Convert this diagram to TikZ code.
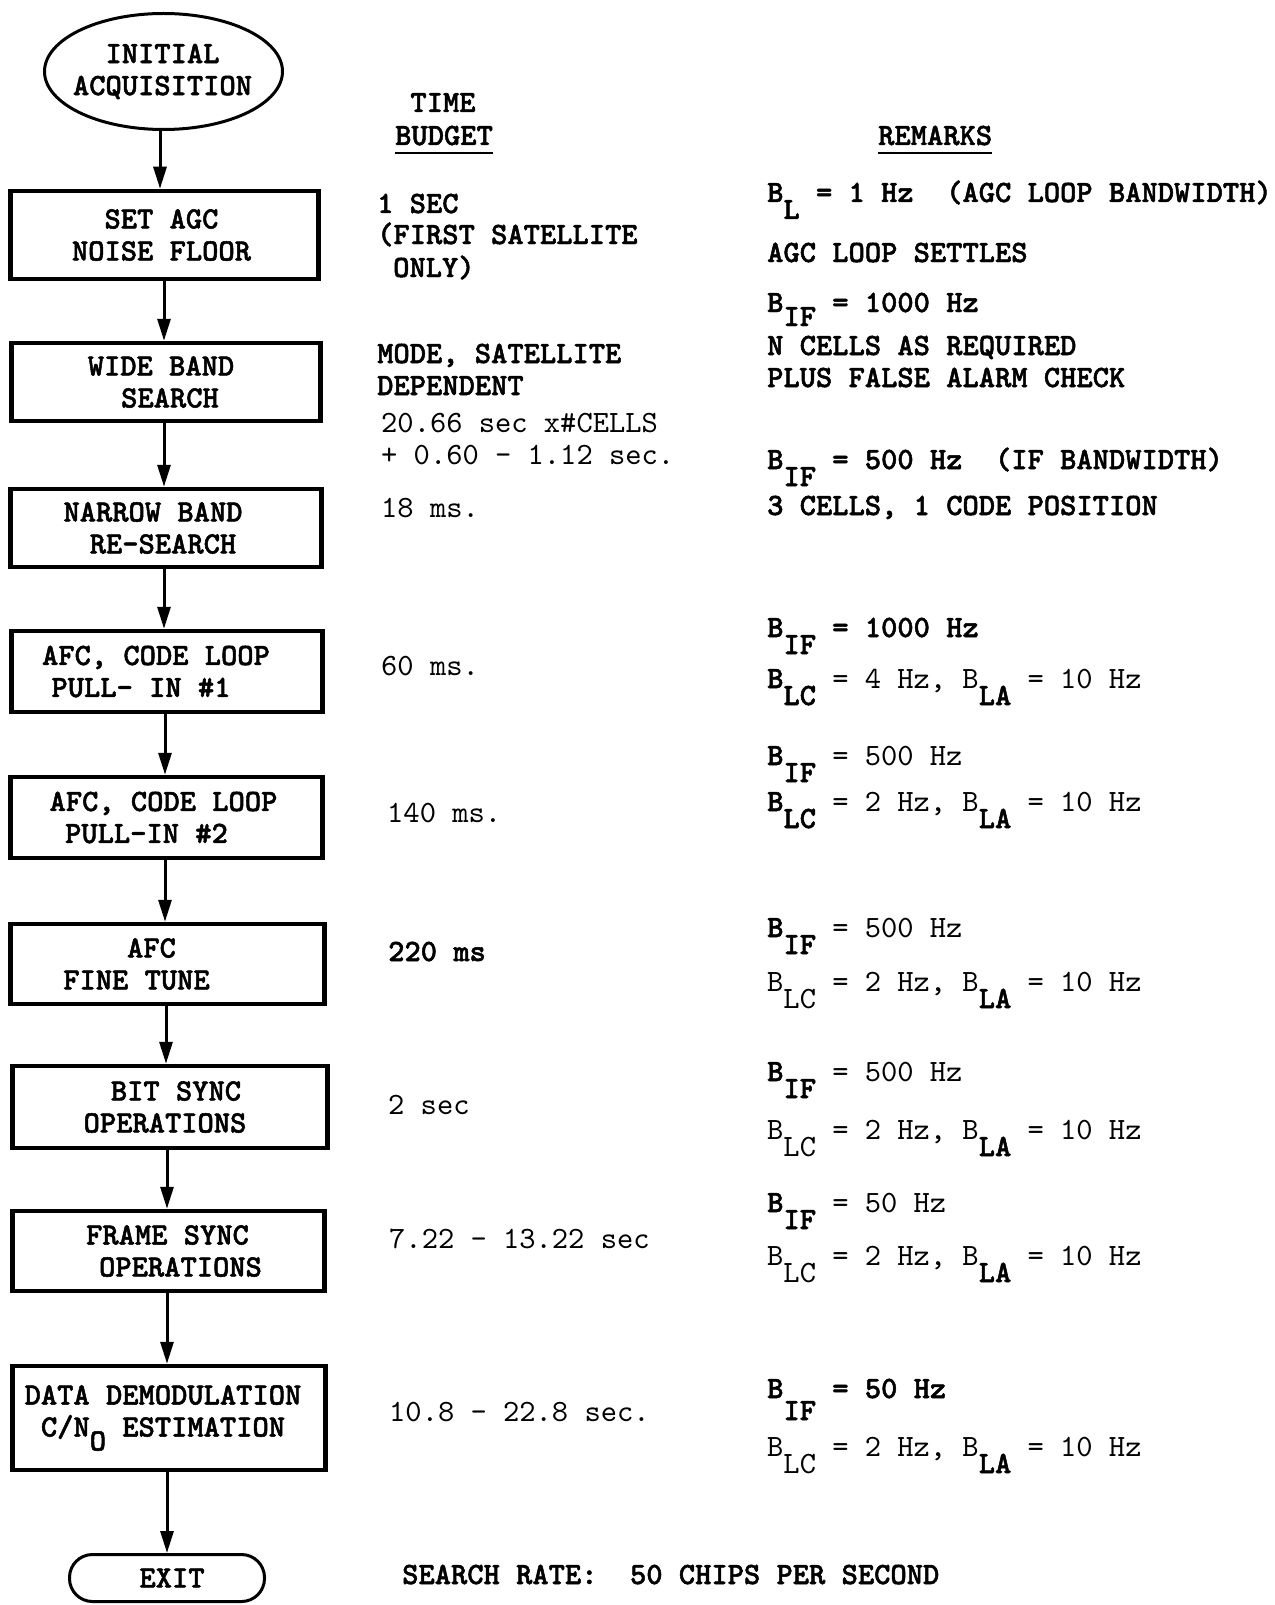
\documentclass[tikz,border=0pt]{standalone}
\usepackage{fontspec}
\setmonofont{lmmono10-regular.otf}[BoldFont=lmmonolt10-bold.otf, BoldFeatures={FakeBold=1.6}]
\usetikzlibrary{arrows.meta,shapes.geometric}
\newcommand{\offl}[2]{\makebox[0pt]{\hspace*{#1pt}\hspace*{#1pt}#2}}
\newcommand{\lw}[1]{\raisebox{-17pt}{#1}}
\begin{document}
\begin{tikzpicture}[x=1pt,y=-1pt,
  every node/.style={inner sep=0pt, font=\ttfamily\fontsize{31}{32}\selectfont},
  box/.style={draw, line width=4.5pt, align=center, font=\ttfamily\bfseries\fontsize{31}{32}\selectfont},
  arr/.style={line width=3pt, -{Triangle[length=22pt,width=13pt]}},
  bt/.style={anchor=base west, font=\ttfamily\bfseries\fontsize{31}{32}\selectfont},
  rt/.style={anchor=base west},
  ul/.style={line width=2.5pt}]
\useasboundingbox (0,0) rectangle (1274,1605);

% flowchart
\node[draw, ellipse, line width=3pt, minimum width=238pt, minimum height=116pt, align=center,
  font=\ttfamily\bfseries\fontsize{31}{32}\selectfont] (e) at (163.5,71.5) {\offl{-1}{INITIAL}\\\offl{-1}{ACQUISITION}};
\node[box, minimum width=308pt, minimum height=88pt] (b1) at (164.5,235) {\offl{-3}{SET AGC}\\\offl{-3}{NOISE FLOOR}};
\node[box, minimum width=309pt, minimum height=78pt] (b2) at (166,382) {\offl{-5}{WIDE BAND}\\\offl{4}{SEARCH}};
\node[box, minimum width=311pt, minimum height=78pt] (b3) at (166,528) {\offl{-13}{NARROW BAND}\\\offl{-3}{RE-SEARCH}};
\node[box, minimum width=311pt, minimum height=81pt] (b4) at (167,671.5) {\offl{-11}{AFC, CODE LOOP}\\\offl{-26}{PULL- IN \#1}};
\node[box, minimum width=312pt, minimum height=81pt] (b5) at (166.5,817.5) {\offl{-3}{AFC, CODE LOOP}\\\offl{-20}{PULL-IN \#2}};
\node[box, minimum width=314pt, minimum height=80pt] (b6) at (167.5,964) {\offl{-16}{AFC}\\\offl{-31}{FINE TUNE}};
\node[box, minimum width=315pt, minimum height=82pt] (b7) at (170,1107) {\offl{6}{BIT SYNC}\\\offl{-5}{OPERATIONS}};
\node[box, minimum width=312pt, minimum height=80pt] (b8) at (168.5,1251) {\offl{-1}{FRAME SYNC}\\\offl{12}{OPERATIONS}};
\node[box, minimum width=313pt, minimum height=104pt] (b9) at (169,1418) {\offl{-6}{DATA DEMODULATION}\\\offl{-6}{C/N\raisebox{-14pt}{O} ESTIMATION}};
\node[draw, line width=3pt, rounded corners=23pt, minimum width=195pt, minimum height=47pt,
  font=\ttfamily\bfseries\fontsize{31}{32}\selectfont] (ex) at (167,1578) {\offl{5}{EXIT}};

\coordinate (xa) at (160,0);
\coordinate (xb) at (164,0);
\coordinate (xc) at (165,0);
\coordinate (xd) at (166,0);
\coordinate (xe) at (167,0);
\draw[arr] (e.south -| xa) -- (b1.north -| xa);
\draw[arr] (b1.south -| xb) -- (b2.north -| xb);
\draw[arr] (b2.south -| xb) -- (b3.north -| xb);
\draw[arr] (b3.south -| xb) -- (b4.north -| xb);
\draw[arr] (b4.south -| xc) -- (b5.north -| xc);
\draw[arr] (b5.south -| xc) -- (b6.north -| xc);
\draw[arr] (b6.south -| xd) -- (b7.north -| xd);
\draw[arr] (b7.south -| xe) -- (b8.north -| xe);
\draw[arr] (b8.south -| xe) -- (b9.north -| xe);
\draw[arr] (b9.south -| xe) -- (ex.north -| xe);

% headings
\node[bt, anchor=base] (time) at (443,112) {TIME};
\node[bt] (bud) at (395,145) {BUDGET};
\draw[ul] ([yshift=-8pt]bud.base west) -- ([yshift=-8pt]bud.base east);
\node[bt] (rem) at (878,145) {REMARKS};
\draw[ul] ([yshift=-8pt]rem.base west) -- ([yshift=-8pt]rem.base east);

% time budget column
\node[bt] (t1a) at (377,213) {1 SEC};
\node[bt] (t1b) at (377,244) {(FIRST SATELLITE};
\node[bt] (t1c) at (393,277) {ONLY)};
\node[bt] (t2a) at (377,363) {MODE, SATELLITE};
\node[bt] (t2b) at (377,395) {DEPENDENT};
\node[rt] (t2c) at (381,432) {20.66 sec x\#CELLS};
\node[rt] (t2d) at (381,464) {+ 0.60 - 1.12 sec.};
\node[rt] (t3) at (381,517) {18 ms.};
\node[rt] (t4) at (381,675) {60 ms.};
\node[rt] (t5) at (387,822) {140 ms.};
\node[bt] (t6) at (388,961) {220 ms};
\node[rt] (t7) at (388,1114) {2 sec};
\node[rt] (t8) at (389,1248) {7.22 - 13.22 sec};
\node[rt] (t9) at (389,1421) {10.8 - 22.8 sec.};
\node[bt] (sr) at (402,1584) {SEARCH RATE:~ 50 CHIPS PER SECOND};

% remarks column
\node[bt] (r1a) at (767,202) {B\lw{L} = 1 Hz~ (AGC LOOP BANDWIDTH)};
\node[bt] (r1b) at (767,262) {AGC LOOP SETTLES};
\node[bt] (r2a) at (767,312) {B\raisebox{-14pt}{IF} = 1000 Hz};
\node[bt] (r2b) at (767,355) {N CELLS AS REQUIRED};
\node[bt] (r2c) at (767,387) {PLUS FALSE ALARM CHECK};
\node[bt] (r3a) at (767,469) {B\lw{IF} = 500 Hz~ (IF BANDWIDTH)};
\node[bt] (r3b) at (767,515) {3 CELLS, 1 CODE POSITION};
\node[bt] (r4a) at (767,637) {B\lw{IF} = 1000 Hz};
\node[rt] (r4b) at (767,688) {\textbf{B\lw{LC}} = 4 Hz, B\textbf{\lw{LA}} = 10 Hz};
\node[rt] (r5a) at (767,765) {\textbf{B\lw{IF}} = 500 Hz};
\node[rt] (r5b) at (767,811) {\textbf{B\lw{LC}} = 2 Hz, B\textbf{\lw{LA}} = 10 Hz};
\node[rt] (r6a) at (767,937) {\textbf{B\lw{IF}} = 500 Hz};
\node[rt] (r6b) at (767,991) {B\lw{LC} = 2 Hz, B\textbf{\lw{LA}} = 10 Hz};
\node[rt] (r7a) at (767,1081) {\textbf{B\lw{IF}} = 500 Hz};
\node[rt] (r7b) at (767,1139) {B\lw{LC} = 2 Hz, B\textbf{\lw{LA}} = 10 Hz};
\node[rt] (r8a) at (767,1212) {\textbf{B\lw{IF}} = 50 Hz};
\node[rt] (r8b) at (767,1265) {B\lw{LC} = 2 Hz, B\textbf{\lw{LA}} = 10 Hz};
\node[bt] (r9a) at (767,1398) {B\raisebox{-22pt}{IF} = 50 Hz};
\node[rt] (r9b) at (767,1456) {B\lw{LC} = 2 Hz, B\textbf{\lw{LA}} = 10 Hz};
\end{tikzpicture}
\end{document}
